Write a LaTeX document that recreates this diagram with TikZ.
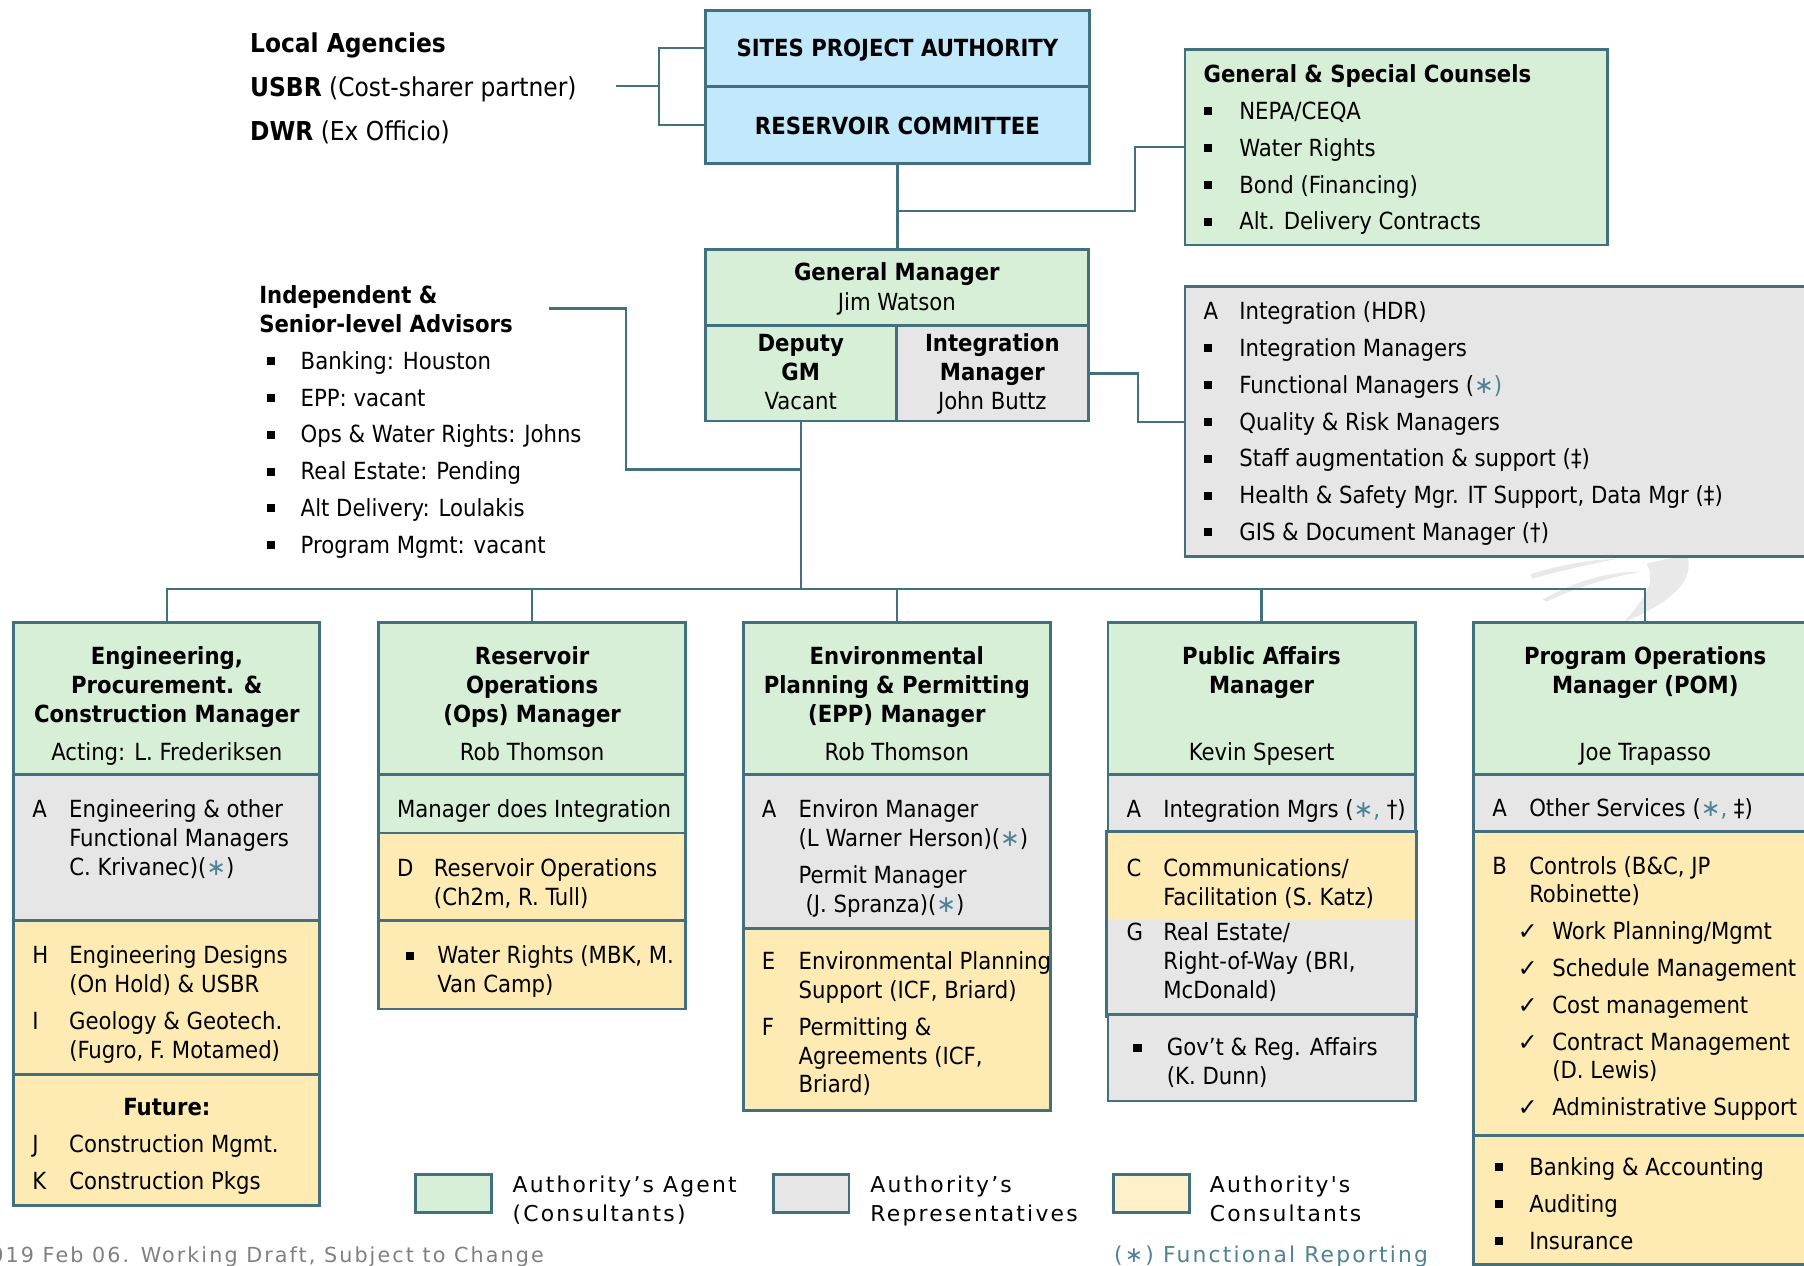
\documentclass[tikz,border=0pt]{standalone}
\usepackage{fontspec}
\setmainfont{DejaVu Sans Condensed}
\newfontfamily\symf{DejaVu Sans}
\newfontfamily\spacedf{DejaVu Sans}[LetterSpace=10]
\usetikzlibrary{positioning,fit,calc}

\definecolor{edge}{HTML}{43707F}
\definecolor{agentc}{HTML}{D7EFD6}
\definecolor{repc}{HTML}{E6E6E6}
\definecolor{consc}{HTML}{FEEBB4}
\definecolor{legcons}{HTML}{FEF1CA}
\definecolor{boardc}{HTML}{C1E8FB}
\definecolor{astc}{HTML}{4F8294}
\definecolor{notec}{HTML}{808080}
\definecolor{wmark}{HTML}{E9E9E9}

\newcommand\bodyfont{\fontsize{10.25pt}{12.5pt}\selectfont}
\newcommand\agfont{\fontsize{11.3pt}{12.5pt}\selectfont}
\newcommand\legfont{\spacedf\fontsize{9.5pt}{12.5pt}\selectfont}
\newcommand\notefont{\spacedf\fontsize{9pt}{12.5pt}\selectfont}
\newcommand\grp[2]{\begin{tabular}[t]{@{}p{#1}@{}l@{}}#2\end{tabular}}
\newcommand\stk[1]{\begin{tabular}[t]{@{}c@{}}#1\end{tabular}}
\newcommand\bul{\rule[1.8pt]{3.5pt}{3.5pt}}
\newcommand\chk{{\symf ✓}}
\newcommand\fnr{\textcolor{astc}{\symf ∗}}

\tikzset{
  box/.style    = {draw=edge, line width=1.2pt, inner sep=0pt},
  agent/.style  = {box, fill=agentc},
  rep/.style    = {box, fill=repc},
  cons/.style   = {box, fill=consc},
  board/.style  = {box, fill=boardc},
  txt/.style    = {anchor=base west, inner sep=0pt, font=\bodyfont},
  hdr/.style    = {anchor=base, inner sep=0pt, font=\bodyfont\bfseries},
  who/.style    = {anchor=base, inner sep=0pt, font=\bodyfont},
  legtxt/.style = {anchor=base west, inner sep=0pt, font=\legfont},
  link/.style   = {draw=edge, line width=1pt}
}

\begin{document}
\bodyfont
\begin{tikzpicture}[x=0.5pt, y=-0.5pt, font=\bodyfont]
\useasboundingbox (0,0) rectangle (1568,1100);

% faint logo behind the boxes
\fill[wmark] (1330,499) .. controls (1360,490) and (1385,486) .. (1404,486) .. controls (1385,490) and (1360,495) .. (1332,503) -- cycle;
\fill[wmark] (1341,521) .. controls (1370,505) and (1400,496) .. (1427,497) .. controls (1400,501) and (1372,510) .. (1344,523) -- cycle;
\fill[wmark] (1466,482) .. controls (1475,505) and (1450,525) .. (1411,541) .. controls (1430,520) and (1440,505) .. (1431,490) -- cycle;

% board
\node[board, fit={(613,9) (947,75)}] (spa) {};
\node[hdr] (spat) at ($(spa.center)+(0,7)$) {SITES PROJECT AUTHORITY};
\node[board, fit={(613,75) (947,142)}] (rc) {};
\node[hdr] (rct) at ($(rc.center)+(0,8)$) {RESERVOIR COMMITTEE};

\node[txt, font=\agfont] (agen) at (217,46) {\begin{tabular}[t]{@{}l@{}}\textbf{Local Agencies}\\[6.5pt]
  \textbf{USBR} (Cost-sharer partner)\\[6.5pt] \textbf{DWR} (Ex Officio)\end{tabular}};
\coordinate (agx) at (535,75);
\coordinate (agj) at (573,75);

% general manager
\node[agent, fit={(613,217) (946,283)}] (gm) {};
\node[who] (gmt) at ($(gm.north)+(0,28)$) {\stk{\textbf{General Manager}\\[0.5pt]Jim Watson}};
\node[agent, fit={(613,283) (779,366)}] (dgm) {};
\node[who] (dgmt) at ($(dgm.north)+(0,24)$) {\stk{\textbf{Deputy}\\\textbf{GM}\\Vacant}};
\node[rep, fit={(779,283) (946,366)}] (im) {};
\node[who] (imt) at ($(im.north)+(0,24)$) {\stk{\textbf{Integration}\\\textbf{Manager}\\John Buttz}};

% counsels
\node[agent, fit={(1030,43) (1397,213)}] (cns) {};
\node[txt] (cnst) at ($(cns.north west)+(17,30)$) {\grp{15.5pt}{%
  \multicolumn{2}{@{}l@{}}{\textbf{General \& Special Counsels}}\\[3.5pt]
  \bul & NEPA/CEQA\\[3.5pt]
  \bul & Water Rights\\[3.5pt]
  \bul & Bond (Financing)\\[3.5pt]
  \bul & Alt. Delivery Contracts}};

% integration support
\node[rep, fit={(1030,249) (1590,484)}] (intg) {};
\node[txt] (intgt) at ($(intg.north west)+(17,30)$) {\grp{15.5pt}{%
  A & Integration (HDR)\\[3.5pt]
  \bul & Integration Managers\\[3.5pt]
  \bul & Functional Managers (\fnr\textcolor{astc}{)}\\[3.5pt]
  \bul & Quality \& Risk Managers\\[3.5pt]
  \bul & Staff augmentation \& support (‡)\\[3.5pt]
  \bul & Health \& Safety Mgr. IT Support, Data Mgr (‡)\\[3.5pt]
  \bul & GIS \& Document Manager (†)}};

% advisors
\node[txt] (advt) at (225,264) {\begin{tabular}[t]{@{}l@{}}\textbf{Independent \&}\\\textbf{Senior-level Advisors}\end{tabular}};
\node[txt] (advl) at (232,321) {\grp{14.5pt}{%
  \bul & Banking: Houston\\[3.5pt]
  \bul & EPP: vacant\\[3.5pt]
  \bul & Ops \& Water Rights: Johns\\[3.5pt]
  \bul & Real Estate: Pending\\[3.5pt]
  \bul & Alt Delivery: Loulakis\\[3.5pt]
  \bul & Program Mgmt: vacant}};
\coordinate (advx) at (477,268);
\coordinate (advk) at (544,408);
\coordinate (bus) at (696,512);

% column 1
\node[agent, fit={(12,541) (278,673)}] (hd1) {};
\node[hdr] (hd1t) at ($(hd1.north)+(0,38)$) {\stk{Engineering,\\Procurement. \&\\Construction Manager}};
\node[who] (hd1n) at ($(hd1.south)+(0,-13)$) {Acting: L. Frederiksen};
\node[rep, fit={(12,673) (278,800)}] (s11) {};
\node[txt] (s11t) at ($(s11.north west)+(17,39)$) {\grp{16pt}{%
  A & Engineering \& other\\ & Functional Managers\\ & C. Krivanec)(\fnr)}};
\node[cons, fit={(12,800) (278,934)}] (s12) {};
\node[txt] (s12t) at ($(s12.north west)+(17,39)$) {\grp{16pt}{%
  H & Engineering Designs\\ & (On Hold) \& USBR\\[3.5pt]
  I & Geology \& Geotech.\\ & (Fugro, F. Motamed)}};
\node[cons, fit={(12,934) (278,1048)}] (s13) {};
\node[hdr] (s13h) at ($(s13.north)+(0,37)$) {Future:};
\node[txt] (s13t) at ($(s13.north west)+(17,69)$) {\grp{16pt}{%
  J & Construction Mgmt.\\[3.5pt] K & Construction Pkgs}};

% column 2
\node[agent, fit={(329,541) (596,673)}] (hd2) {};
\node[hdr] (hd2t) at ($(hd2.north)+(0,38)$) {\stk{Reservoir\\Operations\\(Ops) Manager}};
\node[who] (hd2n) at ($(hd2.south)+(0,-13)$) {Rob Thomson};
\node[agent, fit={(329,673) (596,724)}] (s21) {};
\node[txt] (s21t) at ($(s21.north west)+(17,39)$) {Manager does Integration};
\node[cons, fit={(329,724) (596,800)}] (s22) {};
\node[txt] (s22t) at ($(s22.north west)+(17,39)$) {\grp{16pt}{%
  D & Reservoir Operations\\ & (Ch2m, R. Tull)}};
\node[cons, fit={(329,800) (596,877)}] (s23) {};
\node[txt] (s23t) at ($(s23.north west)+(25,39)$) {\grp{13.5pt}{%
  \bul & Water Rights (MBK, M.\\ & Van Camp)}};

% column 3
\node[agent, fit={(646,541) (913,673)}] (hd3) {};
\node[hdr] (hd3t) at ($(hd3.north)+(0,38)$) {\stk{Environmental\\Planning \& Permitting\\(EPP) Manager}};
\node[who] (hd3n) at ($(hd3.south)+(0,-13)$) {Rob Thomson};
\node[rep, fit={(646,673) (913,807)}] (s31) {};
\node[txt] (s31t) at ($(s31.north west)+(17,39)$) {\grp{16pt}{%
  A & Environ Manager\\ & (L Warner Herson)(\fnr)\\[3.5pt]
    & Permit Manager\\ & \hspace{3pt}(J. Spranza)(\fnr)}};
\node[cons, fit={(646,807) (913,965)}] (s32) {};
\node[txt] (s32t) at ($(s32.north west)+(17,37)$) {\grp{16pt}{%
  E & Environmental Planning\\ & Support (ICF, Briard)\\[3.5pt]
  F & Permitting \&\\ & Agreements (ICF,\\ & Briard)}};

% column 4
\node[agent, fit={(963,541) (1230,673)}] (hd4) {};
\node[hdr] (hd4t) at ($(hd4.north)+(0,38)$) {\stk{Public Affairs\\Manager}};
\node[who] (hd4n) at ($(hd4.south)+(0,-13)$) {Kevin Spesert};
\node[rep, fit={(963,673) (1230,724)}] (s41) {};
\node[txt] (s41t) at ($(s41.north west)+(17,39)$) {\grp{16pt}{%
  A & Integration Mgrs (\fnr\textcolor{astc}{,} †)}};
\node[cons, draw=none, fit={(963,724) (1230,800)}] (s42) {};
\node[rep, draw=none, fit={(963,800) (1230,882)}] (s43) {};
\draw[box] (s42.north west) rectangle (s43.south east);
\node[txt] (s42t) at ($(s42.north west)+(17,39)$) {\grp{16pt}{%
  C & Communications/\\ & Facilitation (S. Katz)}};
\node[txt] (s43t) at ($(s43.north west)+(17,19)$) {\grp{16pt}{%
  G & Real Estate/\\ & Right-of-Way (BRI,\\ & McDonald)}};
\node[rep, fit={(963,882) (1230,957)}] (s44) {};
\node[txt] (s44t) at ($(s44.north west)+(23,37)$) {\grp{14.5pt}{%
  \bul & Gov’t \& Reg. Affairs\\ & (K. Dunn)}};

% column 5
\node[agent, fit={(1281,541) (1579,673)}] (hd5) {};
\node[hdr] (hd5t) at ($(hd5.north)+(0,38)$) {\stk{Program Operations\\Manager (POM)}};
\node[who] (hd5n) at ($(hd5.south)+(0,-13)$) {Joe Trapasso};
\node[rep, fit={(1281,673) (1579,723)}] (s51) {};
\node[txt] (s51t) at ($(s51.north west)+(17,38)$) {\grp{16pt}{%
  A & Other Services (\fnr\textcolor{astc}{,} ‡)}};
\node[cons, fit={(1281,723) (1579,987)}] (s52) {};
\node[txt] (s52t) at ($(s52.north west)+(17,38)$) {\grp{16pt}{%
  B & Controls (B\&C, JP\\ & Robinette)}};
\node[txt] (s52c) at ($(s52.north west)+(39,95)$) {\grp{15pt}{%
  \chk & Work Planning/Mgmt\\[3.5pt]
  \chk & Schedule Management\\[3.5pt]
  \chk & Cost management\\[3.5pt]
  \chk & Contract Management\\ & (D. Lewis)\\[3.5pt]
  \chk & Administrative Support}};
\node[cons, fit={(1281,987) (1579,1099)}] (s53) {};
\node[txt] (s53t) at ($(s53.north west)+(19,36)$) {\grp{15pt}{%
  \bul & Banking \& Accounting\\[3.5pt] \bul & Auditing\\[3.5pt] \bul & Insurance}};

% legend
\node[agent, fit={(361,1021) (427,1054)}] (lg1) {};
\node[legtxt] (lg1t) at ($(lg1.north east)+(17,17)$) {\begin{tabular}[t]{@{}l@{}}Authority’s Agent\\(Consultants)\end{tabular}};
\node[rep, fit={(672,1021) (738,1054)}] (lg2) {};
\node[legtxt] (lg2t) at ($(lg2.north east)+(17,17)$) {\begin{tabular}[t]{@{}l@{}}Authority’s\\Representatives\end{tabular}};
\node[box, fill=legcons, fit={(968,1021) (1034,1054)}] (lg3) {};
\node[legtxt] (lg3t) at ($(lg3.north east)+(16,17)$) {\begin{tabular}[t]{@{}l@{}}Authority's\\Consultants\end{tabular}};
\node[legtxt, text=astc] (fnrt) at (968,1097) {(∗) Functional Reporting};
\node[legtxt, text=notec, font=\notefont] (draft) at (-22,1097) {2019 Feb 06. Working Draft, Subject to Change};

% connectors
\draw[link] (agx) -- (agj);
\draw[link] (spa.west) -| (agj) |- (rc.west);
\draw[link] (rc.south) -- (rc.south |- gm.north);
\draw[link] ($(rc.south)+(0,40)$) -| ($(cns.west)+(-42,0)$) -- (cns.west);
\draw[link] (im.east) -- ++(42,0) |- (intg.west);
\draw[link] (advx) -| (advk) -- (advk -| dgm.south);
\draw[link] (dgm.south) -- (bus);
\foreach \i in {1,...,5}
  \draw[link] (bus) -| (hd\i.north);

\end{tikzpicture}
\end{document}
